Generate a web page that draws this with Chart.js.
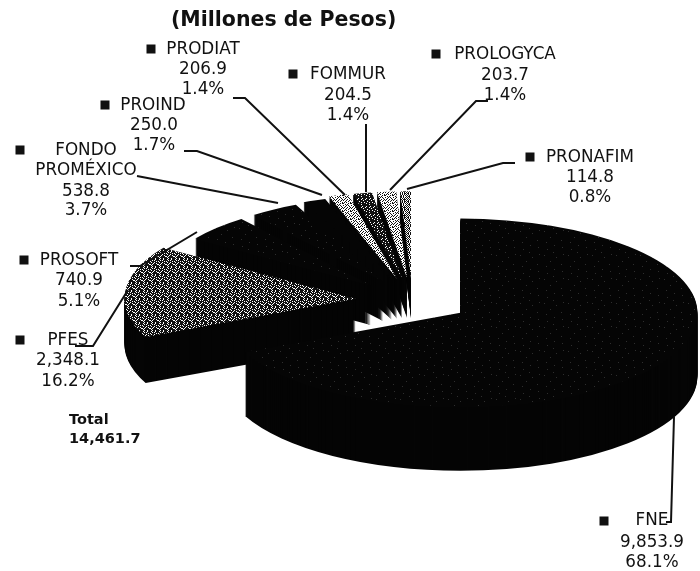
<!DOCTYPE html>
<html>
<head>
<meta charset="utf-8">
<title>Millones de Pesos</title>
<script src="https://cdn.jsdelivr.net/npm/chart.js@4"></script>
<style>
html, body { margin: 0; padding: 0; background: #fff; }
#wrap { position: relative; width: 700px; height: 571px; overflow: hidden; }
</style>
</head>
<body>
<div id="wrap"><canvas id="pieChart" width="700" height="571"></canvas></div>
<script>
var titleText = "(Millones de Pesos)";
var categories = ["FNE", "PFES", "PROSOFT", "FONDO PROMÉXICO", "PROIND", "PRODIAT", "FOMMUR", "PROLOGYCA", "PRONAFIM"];
var seriesValues = [9853.9, 2348.1, 740.9, 538.8, 250.0, 206.9, 204.5, 203.7, 114.8];
var valueLabels = ["9,853.9", "2,348.1", "740.9", "538.8", "250.0", "206.9", "204.5", "203.7", "114.8"];
var percentLabels = ["68.1%", "16.2%", "5.1%", "3.7%", "1.7%", "1.4%", "1.4%", "1.4%", "0.8%"];
var totalLabels = ["Total", "14,461.7"];

// look of the 3d pie
var pieCenter = { x: 412.4, y: 300.5 };
var pieRadius = 237;
var tilt = 0.397;
var explode = 57;
var radiusScale = [1, 0.975, 0.89, 0.89, 0.9, 0.92, 0.92, 0.92, 0.92];
var wallDepth = [64, 46, 40, 40, 40, 40, 40, 40, 40];

// callouts: marker, text lines [centre x, centre y], leader polyline
var callouts = [
	{ marker: [604, 521], lines: [[652, 521], [652, 543], [652, 563]], leader: [[674, 417], [671, 522], [666, 522]] },
	{ marker: [20, 340], lines: [[68, 341], [68, 361], [68, 382]], leader: [[128, 290], [93, 346], [75, 346]] },
	{ marker: [24, 260], lines: [[79, 261], [79, 281], [79, 302]], leader: [[197, 232], [140, 266], [130, 266]] },
	{ marker: [20, 150], lines: [[86, 151], [86, 171], [86, 192], [86, 211]], leader: [[278, 203], [137, 176]] },
	{ marker: [105, 105], lines: [[153, 106], [154, 126], [154, 146]], leader: [[322, 195], [197, 151], [184, 151]] },
	{ marker: [151, 49], lines: [[203, 50], [203, 70], [203, 90]], leader: [[345, 195], [245, 98], [233, 98]] },
	{ marker: [293, 74], lines: [[348, 75], [348, 96], [348, 116]], leader: [[366, 192], [366, 124]] },
	{ marker: [436, 54], lines: [[505, 55], [505, 76], [505, 96]], leader: [[390, 190], [476, 101], [488, 101]] },
	{ marker: [530, 157], lines: [[590, 158], [590, 178], [590, 198]], leader: [[407, 189], [503, 163], [515, 163]] }
];

function makeDither(rows, fg, bg){
	var c = document.createElement("canvas");
	c.width = rows[0].length;
	c.height = rows.length;
	var g = c.getContext("2d");
	g.fillStyle = bg;
	g.fillRect(0, 0, c.width, c.height);
	g.fillStyle = fg;
	for(var y = 0; y < rows.length; y++){
		for(var x = 0; x < rows[y].length; x++){
			if(rows[y][x] == "#"){ g.fillRect(x, y, 1, 1); }
		}
	}
	var p = g.createPattern(c, "repeat");
	// the pie is squashed when drawn, keep the grain square
	p.setTransform(new DOMMatrix().scale(1, 1 / tilt));
	return p;
}

var grainMid = makeDither([
	"#.######",
	"##.##.##",
	"#.###.##",
	"##.#.###",
	".#####.#",
	"#.##.###",
	"###.##.#",
	".#.####."
], "#111", "#fff");
var grainLight = makeDither([
	"#..#.#..",
	"..#...#.",
	".#..#..#",
	"#..#..#.",
	"..#..#..",
	".#.#...#",
	"#....#.#",
	"..#.#..."
], "#111", "#fff");
var grainDark = makeDither([
	"########",
	"##.###.#",
	"#.###.##",
	"#######.",
	"###.####",
	".####.##",
	"##.#####",
	"#####.##"
], "#111", "#fff");
var grainGray = makeDither([
	"#.#.#.#.",
	".#.#.#.#",
	"#.#.#.##",
	".#.#.#.#",
	"#.##.#.#",
	".#.#.#.#",
	"#.#.#.#.",
	".#.##.#."
], "#111", "#fff");
var grainSpeck = makeDither([
	"####################.###",
	"########################",
	"#####.##################",
	"########################",
	"########################",
	"###########.############",
	"########################",
	"#####################.##",
	"##.#####################",
	"########################",
	"##############.#########",
	"########################",
	"########################",
	"########################",
	"########.###############",
	"########################",
	"########################",
	"###################.####",
	"########################",
	"####.###################",
	"########################",
	"########################",
	"############.###########",
	"########################"
], "#050505", "#2e2e2e");

var sliceFills = [grainSpeck, grainMid, grainSpeck, grainSpeck, "#050505", grainLight, grainDark, grainLight, grainGray];

var pie3d = {
	id: "pie3d",
	afterDatasetsUpdate: function(chart){
		var arcs = chart.getDatasetMeta(0).data;
		for(var i = 0; i < arcs.length; i++){
			arcs[i].outerRadius = pieRadius * radiusScale[i];
		}
	},
	// the squashing and the exploding are done here, so the normal draw is skipped
	beforeDatasetDraw: function(chart){
		var ctx = chart.ctx;
		var arcs = chart.getDatasetMeta(0).data;
		var i, mid;
		ctx.save();
		ctx.imageSmoothingEnabled = false;
		ctx.translate(pieCenter.x, pieCenter.y);
		ctx.scale(1, tilt);
		ctx.translate(-arcs[0].x, -arcs[0].y);
		// side walls first, the tops are painted over them
		ctx.fillStyle = "#050505";
		for(i = arcs.length - 1; i >= 0; i--){
			var arc = arcs[i];
			mid = (arc.startAngle + arc.endAngle) / 2;
			var ax = arc.x + Math.cos(mid) * explode;
			var ay = arc.y + Math.sin(mid) * explode;
			for(var d = wallDepth[i]; d >= 1; d--){
				ctx.beginPath();
				ctx.moveTo(ax, ay + d / tilt);
				ctx.arc(ax, ay + d / tilt, arc.outerRadius, arc.startAngle, arc.endAngle);
				ctx.closePath();
				ctx.fill();
			}
		}
		for(i = 0; i < arcs.length; i++){
			mid = (arcs[i].startAngle + arcs[i].endAngle) / 2;
			ctx.save();
			ctx.translate(Math.cos(mid) * explode, Math.sin(mid) * explode);
			arcs[i].draw(ctx);
			ctx.restore();
		}
		ctx.restore();
		return false;
	}
};

var labelsPlugin = {
	id: "calloutLabels",
	afterDraw: function(chart){
		var ctx = chart.ctx;
		ctx.save();
		ctx.fillStyle = "#111";
		ctx.strokeStyle = "#111";
		ctx.textBaseline = "middle";

		ctx.font = "700 20.5px 'DejaVu Sans'";
		ctx.textAlign = "left";
		ctx.fillText(titleText, 171, 21);

		for(var i = 0; i < callouts.length; i++){
			var co = callouts[i];
			ctx.lineWidth = 2;
			ctx.beginPath();
			for(var k = 0; k < co.leader.length; k++){
				if(k == 0){ ctx.moveTo(co.leader[k][0], co.leader[k][1]); }
				else { ctx.lineTo(co.leader[k][0], co.leader[k][1]); }
			}
			ctx.stroke();

			ctx.fillRect(co.marker[0] - 4.5, co.marker[1] - 4.5, 9, 9);

			var name = categories[i] == "FONDO PROMÉXICO" ? ["FONDO", "PROMÉXICO"] : [categories[i]];
			var textLines = name.concat([valueLabels[i], percentLabels[i]]);
			ctx.font = "16.8px 'DejaVu Sans'";
			ctx.textAlign = "center";
			for(var n = 0; n < textLines.length; n++){
				ctx.fillText(textLines[n], co.lines[n][0], co.lines[n][1]);
			}
		}

		ctx.font = "700 14.5px 'DejaVu Sans'";
		ctx.textAlign = "left";
		ctx.fillText(totalLabels[0], 69, 420);
		ctx.fillText(totalLabels[1], 69, 439);
		ctx.restore();
	}
};

new Chart(document.getElementById("pieChart"), {
	type: "pie",
	data: {
		labels: categories,
		datasets: [{
			data: seriesValues,
			backgroundColor: sliceFills,
			borderWidth: 0,
			clip: false
		}]
	},
	options: {
		responsive: false,
		animation: false,
		plugins: { legend: { display: false }, tooltip: { enabled: false } }
	},
	plugins: [pie3d, labelsPlugin]
});
</script>
</body>
</html>
